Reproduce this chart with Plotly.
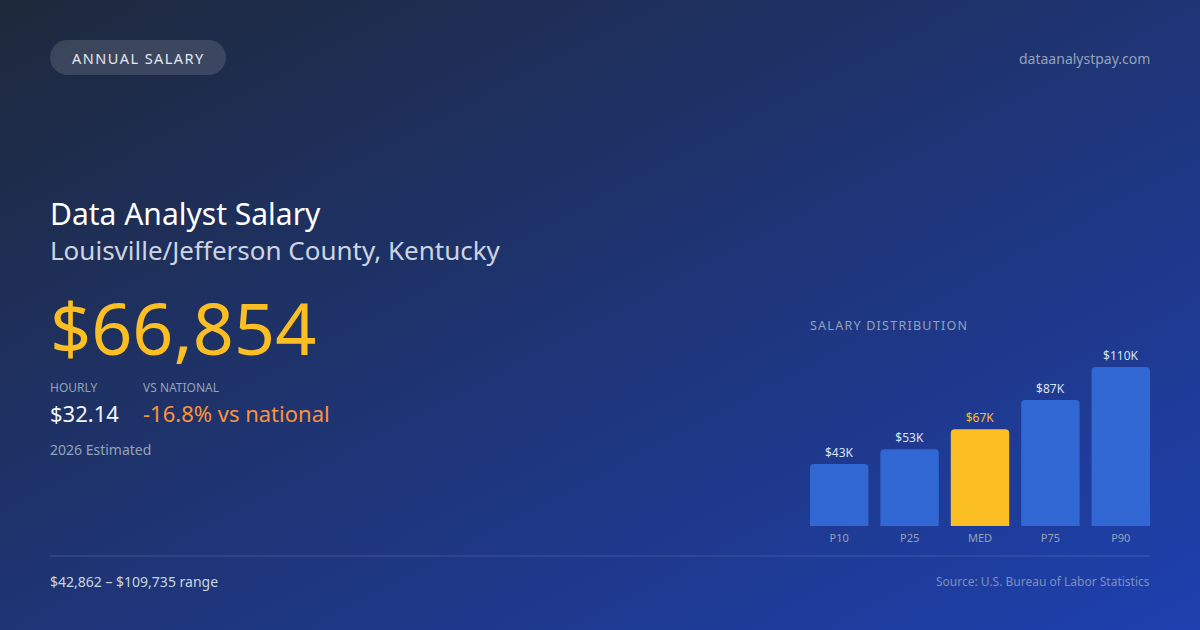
import base64
import plotly.graph_objects as go

# data
labels = ["P10", "P25", "MED", "P75", "P90"]
salaries = [42862, 53000, 66854, 87000, 109735]
median_salary = 66854
hourly = "$32.14"
vs_national = "-16.8% vs national"
title = "Data Analyst Salary"
place = "Louisville/Jefferson County, Kentucky"

W, H = 1200, 630
FONT = "Noto Sans"

def px(x):
    return x / W

def py(y):
    return 1 - y / H

def spaced(s):
    # fake letter spacing with hair spaces
    return "\u200a".join(s)

# background gradient as an svg image
svg = ('<svg xmlns="http://www.w3.org/2000/svg" width="1200" height="630">'
       '<defs><linearGradient id="g" x1="0" y1="0" x2="1" y2="1">'
       '<stop offset="0" stop-color="#1e293b"/>'
       '<stop offset="1" stop-color="#1e40af"/>'
       '</linearGradient></defs>'
       '<rect width="1200" height="630" fill="url(#g)"/></svg>')
bg = "data:image/svg+xml;base64," + base64.b64encode(svg.encode()).decode()

bar_colors = ["#fbbf24" if l == "MED" else "#3067d3" for l in labels]
text_colors = ["#fbbf24" if l == "MED" else "#dbe3f0" for l in labels]
bar_text = ["$%dK" % round(v / 1000) for v in salaries]

fig = go.Figure()
fig.add_trace(go.Bar(
    x=list(range(len(labels))), y=salaries,
    width=0.83,
    marker=dict(color=bar_colors, cornerradius=4, line=dict(width=0)),
    text=bar_text, textposition="outside",
    textfont=dict(family=FONT, size=12, color=text_colors),
    cliponaxis=False, hoverinfo="skip",
))

# pill behind "ANNUAL SALARY"
x0, x1, y0, y1 = 50, 226, 40, 75
r = (y1 - y0) / 2
k = 0.5523 * r
pill = (f"M {px(x0 + r)} {py(y0)} L {px(x1 - r)} {py(y0)} "
        f"C {px(x1 - r + k)} {py(y0)} {px(x1)} {py(y0 + r - k)} {px(x1)} {py(y0 + r)} "
        f"C {px(x1)} {py(y0 + r + k)} {px(x1 - r + k)} {py(y1)} {px(x1 - r)} {py(y1)} "
        f"L {px(x0 + r)} {py(y1)} "
        f"C {px(x0 + r - k)} {py(y1)} {px(x0)} {py(y0 + r + k)} {px(x0)} {py(y0 + r)} "
        f"C {px(x0)} {py(y0 + r - k)} {px(x0 + r - k)} {py(y0)} {px(x0 + r)} {py(y0)} Z")
fig.add_shape(type="path", path=pill, xref="paper", yref="paper",
              fillcolor="rgba(255,255,255,0.13)", line=dict(width=0))
fig.add_shape(type="line", xref="paper", yref="paper",
              x0=px(50), x1=px(1150), y0=py(556), y1=py(556),
              line=dict(color="rgba(255,255,255,0.16)", width=1))

def note(text, x, y, size, color, anchor="left"):
    fig.add_annotation(text=text, x=px(x), y=py(y), xref="paper", yref="paper",
                       xanchor=anchor, yanchor="middle", showarrow=False,
                       borderpad=0, borderwidth=0,
                       font=dict(family=FONT, size=size, color=color))

note(spaced("ANNUAL SALARY"), 138, 58, 14.5, "#e2e8f0", "center")
note("dataanalystpay.com", 1150, 58, 14, "#94a3b8", "right")
note(title, 50, 213, 30, "#ffffff")
note(place, 50, 250, 26, "#cbd5e1")
note("${:,}".format(median_salary), 50, 327, 72, "#fbbf24")
note("HOURLY", 50, 387, 12, "#94a3b8")
note("VS NATIONAL", 143, 387, 12, "#94a3b8")
note(hourly, 50, 413, 22, "#f1f5f9")
note(vs_national, 143, 413, 22, "#fb923c")
note("2026 Estimated", 50, 449, 14, "#94a3b8")
note(spaced("SALARY DISTRIBUTION"), 810, 325, 12.5, "#94a3b8")
note("${:,} \u2013 ${:,} range".format(salaries[0], salaries[-1]), 50, 581, 14, "#cbd5e1")
note("Source: U.S. Bureau of Labor Statistics", 1150, 581, 12, "#7d8fb8", "right")

fig.update_layout(
    width=W, height=H,
    margin=dict(l=0, r=0, t=0, b=0),
    paper_bgcolor="#1e293b", plot_bgcolor="rgba(0,0,0,0)",
    showlegend=False,
    images=[dict(source=bg, xref="paper", yref="paper", x=0, y=1,
                 sizex=1, sizey=1, sizing="stretch", layer="below")],
    xaxis=dict(domain=[px(810), px(1150)], range=[-0.415, 4.415],
               tickvals=list(range(len(labels))), ticktext=labels,
               showgrid=False, zeroline=False, showline=False, ticks="",
               ticklabelstandoff=4,
               tickfont=dict(family=FONT, size=11, color="#94a3b8"),
               fixedrange=True),
    yaxis=dict(domain=[py(526), py(367)], range=[0, max(salaries)],
               visible=False, fixedrange=True),
)

fig.write_html("out.html", config={"displayModeBar": False},
               post_script="document.body.style.margin='0';")
